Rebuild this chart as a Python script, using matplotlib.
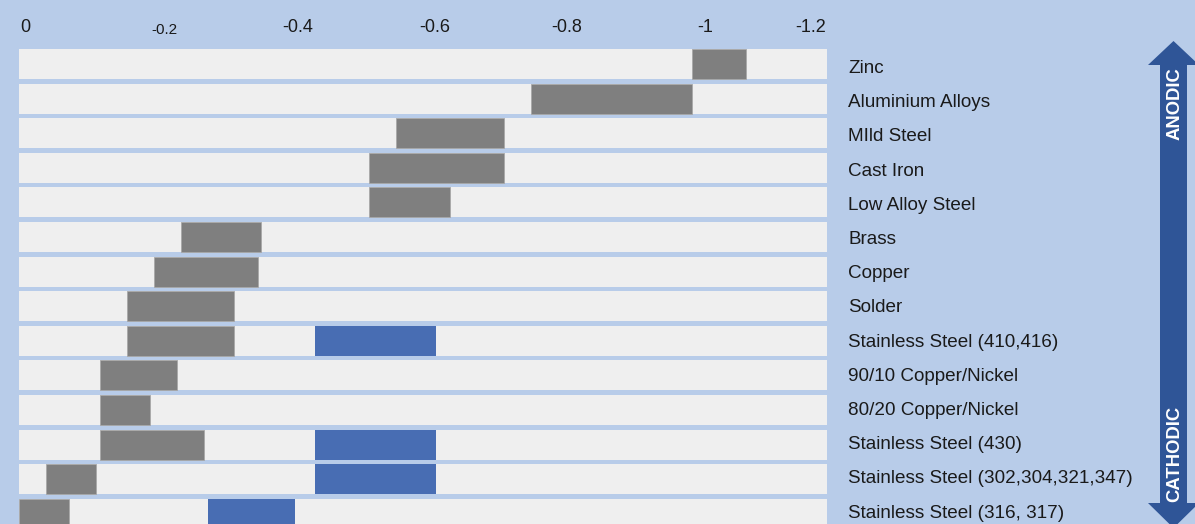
import matplotlib
matplotlib.use("Agg")
import matplotlib.pyplot as plt
from matplotlib.patches import Polygon
from matplotlib.transforms import ScaledTranslation

# ---- data ----
metals = ["Zinc", "Aluminium Alloys", "MIld Steel", "Cast Iron", "Low Alloy Steel",
          "Brass", "Copper", "Solder", "Stainless Steel (410,416)",
          "90/10 Copper/Nickel", "80/20 Copper/Nickel", "Stainless Steel (430)",
          "Stainless Steel (302,304,321,347)", "Stainless Steel (316, 317)"]
active_start = [-1.00, -0.76, -0.56, -0.52, -0.52, -0.24, -0.20, -0.16, -0.16,
                -0.12, -0.12, -0.12, -0.04, 0.00]
active_end = [-1.08, -1.00, -0.72, -0.72, -0.64, -0.36, -0.355, -0.32, -0.32,
              -0.235, -0.195, -0.275, -0.115, -0.075]
passive_rows = ["Stainless Steel (410,416)", "Stainless Steel (430)",
                "Stainless Steel (302,304,321,347)", "Stainless Steel (316, 317)"]
passive_start = [-0.44, -0.44, -0.44, -0.28]
passive_end = [-0.62, -0.62, -0.62, -0.41]
tick_values = [0, -0.2, -0.4, -0.6, -0.8, -1.0, -1.2]
tick_labels = ["0", "-0.2", "-0.4", "-0.6", "-0.8", "-1", "-1.2"]
axis_min, axis_max = 0, -1.2

# ---- style ----
BG = "#b8cce9"
ROW = "#efefef"
GREY = "#7f7f7f"
BLUE = "#486db3"
ARROW = "#2f5597"
FONT = ["Liberation Sans", "DejaVu Sans"]
plt.rcParams["font.family"] = FONT

W, H = 1195, 524
fig = plt.figure(figsize=(W / 100, H / 100), dpi=100, facecolor=BG)

left_px, right_px = 19, 827
top_px = 46.7
ax = fig.add_axes([left_px / W, 0, (right_px - left_px) / W, 1 - top_px / H])
ax.set_facecolor("none")

n = len(metals)
ypos = list(range(n))
bh = 0.867

# row backgrounds
ax.barh(ypos, [axis_max - axis_min] * n, left=axis_min, height=bh, color=ROW, linewidth=0)
# active (grey) ranges
ax.barh(ypos, [e - s for s, e in zip(active_start, active_end)], left=active_start,
        height=bh, color=GREY, edgecolor="#a8a8a8", linewidth=0.6)
# passive (blue) ranges
py = [metals.index(r) for r in passive_rows]
ax.barh(py, [e - s for s, e in zip(passive_start, passive_end)], left=passive_start,
        height=bh, color=BLUE, linewidth=0)

ax.set_xlim(axis_min, axis_max)
ax.set_ylim(13.295, -0.5)
for s in ax.spines.values():
    s.set_visible(False)
ax.set_yticks([])

ax.xaxis.tick_top()
ax.set_xticks(tick_values)
ax.set_xticklabels(tick_labels)
ax.tick_params(axis="x", length=0, pad=8, colors="#1a1a1a")
label_sizes = [13, 11, 13, 13, 13, 13, 13]
label_shift_px = [6.8, 10.6, 9.2, 11.5, 9.3, 12.7, -16.7]
for lab, fs, dx in zip(ax.get_xticklabels(), label_sizes, label_shift_px):
    lab.set_fontsize(fs)
    lab.set_color("#1a1a1a")
    dy = -1.0 if fs < 13 else 0.0
    lab.set_transform(lab.get_transform() + ScaledTranslation(dx / 100, dy / 100, fig.dpi_scale_trans))

# metal names (label pitch is slightly tighter than the row pitch)
for i, name in enumerate(metals):
    ax.annotate(name, xy=(1, i), xycoords=("axes fraction", "data"),
                xytext=(21, -4.5 + 0.4 * i), textcoords="offset pixels",
                ha="left", va="center", fontsize=13.6, color="#1a1a1a",
                annotation_clip=False)

# double-headed arrow (figure pixels)
cx = 1173.5
sw = 13.5
hw = 25.5
top_tip, top_base = 41, 65
bot_base, bot_tip = 503, 528
pts = [(cx, top_tip), (cx + hw, top_base), (cx + sw, top_base), (cx + sw, bot_base),
       (cx + hw, bot_base), (cx, bot_tip), (cx - hw, bot_base), (cx - sw, bot_base),
       (cx - sw, top_base), (cx - hw, top_base)]
pts = [(x / W, 1 - y / H) for x, y in pts]
fig.patches.append(Polygon(pts, closed=True, transform=fig.transFigure,
                           facecolor=ARROW, edgecolor="none"))
fig.text(1175 / W, 1 - 103.5 / H, "ANODIC", rotation=90, ha="center", va="center",
         color="white", fontsize=13.3, fontweight="bold")
fig.text(1175 / W, 1 - 453.5 / H, "CATHODIC", rotation=90, ha="center", va="center",
         color="white", fontsize=13.3, fontweight="bold")

fig.savefig("out.png", dpi=100, facecolor=BG)
